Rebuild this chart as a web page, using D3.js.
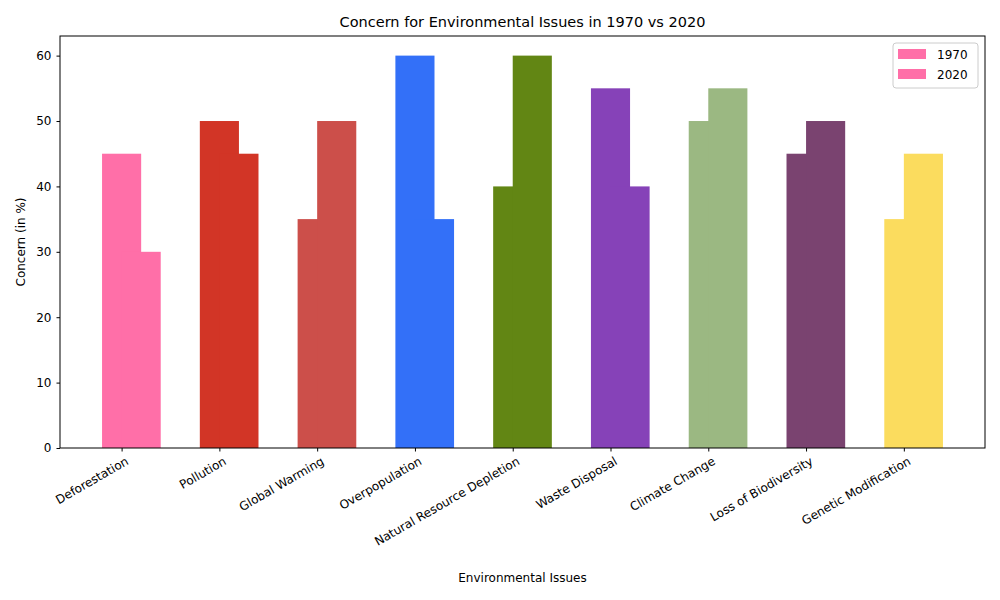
<!DOCTYPE html>
<html><head><meta charset="utf-8">
<script src="https://cdn.jsdelivr.net/npm/d3@7"></script>
<style>body{margin:0;background:#fff;font-family:"DejaVu Sans",sans-serif;}</style>
</head><body><svg id="c" width="1000" height="600"></svg>
<script>
const categories=["Deforestation","Pollution","Global Warming","Overpopulation","Natural Resource Depletion","Waste Disposal","Climate Change","Loss of Biodiversity","Genetic Modification"];
const values1970=[45,50,35,60,40,55,50,45,35];
const values2020=[30,45,50,35,60,40,55,50,45];
const colors=["#ff6fa8","#d23526","#cc4f4a","#3370f8","#628614","#8642b8","#9bb882","#7a4370","#fbdc5e"];
const yTicks=[0,10,20,30,40,50,60];
const svg=d3.select("#c");
const L=60,R=985,T=36,B=448;
const x=d3.scaleLinear().domain([-0.63,8.83]).range([L,R]);
const y=d3.scaleLinear().domain([0,63]).range([B,T]);
const bw=x(0.4)-x(0);
const g=svg.append("g");
categories.forEach((c,i)=>{
  g.append("rect").attr("x",x(i-0.2)).attr("y",y(values1970[i])).attr("width",bw).attr("height",B-y(values1970[i])).attr("fill",colors[i]);
  g.append("rect").attr("x",x(i)).attr("y",y(values2020[i])).attr("width",bw).attr("height",B-y(values2020[i])).attr("fill",colors[i]);
});
const xa=svg.append("g").attr("transform",`translate(0,${B})`).call(d3.axisBottom(x).tickValues(d3.range(categories.length)).tickFormat(i=>categories[i]).tickSizeOuter(0).tickSize(3.5));
xa.selectAll("text").attr("font-size",12).attr("font-family","DejaVu Sans").attr("fill","#000").attr("text-anchor","end").attr("dx","0").attr("dy","0").attr("transform","translate(4,10) rotate(-30)");
xa.select(".domain").remove();
const ya=svg.append("g").attr("transform",`translate(${L},0)`).call(d3.axisLeft(y).tickValues(yTicks).tickSize(3.5).tickPadding(5));
ya.selectAll("text").attr("font-size",12).attr("font-family","DejaVu Sans").attr("fill","#000");
ya.select(".domain").remove();
svg.append("rect").attr("x",L).attr("y",T).attr("width",R-L).attr("height",B-T).attr("fill","none").attr("stroke","#000").attr("stroke-width",1);
svg.append("text").attr("x",(L+R)/2).attr("y",27).attr("text-anchor","middle").attr("font-size",14.5).text("Concern for Environmental Issues in 1970 vs 2020");
svg.append("text").attr("x",(L+R)/2).attr("y",582).attr("text-anchor","middle").attr("font-size",12).text("Environmental Issues");
svg.append("text").attr("transform",`translate(25,${(T+B)/2}) rotate(-90)`).attr("text-anchor","middle").attr("font-size",12).text("Concern (in %)");
const lg=svg.append("g");
lg.append("rect").attr("x",893).attr("y",43).attr("width",85).attr("height",45).attr("rx",3).attr("fill","#fff").attr("stroke","#ccc");
["1970","2020"].forEach((t,k)=>{
  lg.append("rect").attr("x",898).attr("y",49+k*20).attr("width",28).attr("height",10).attr("fill",colors[0]);
  lg.append("text").attr("x",937).attr("y",59+k*20).attr("font-size",12).text(t);
});
</script></body></html>
